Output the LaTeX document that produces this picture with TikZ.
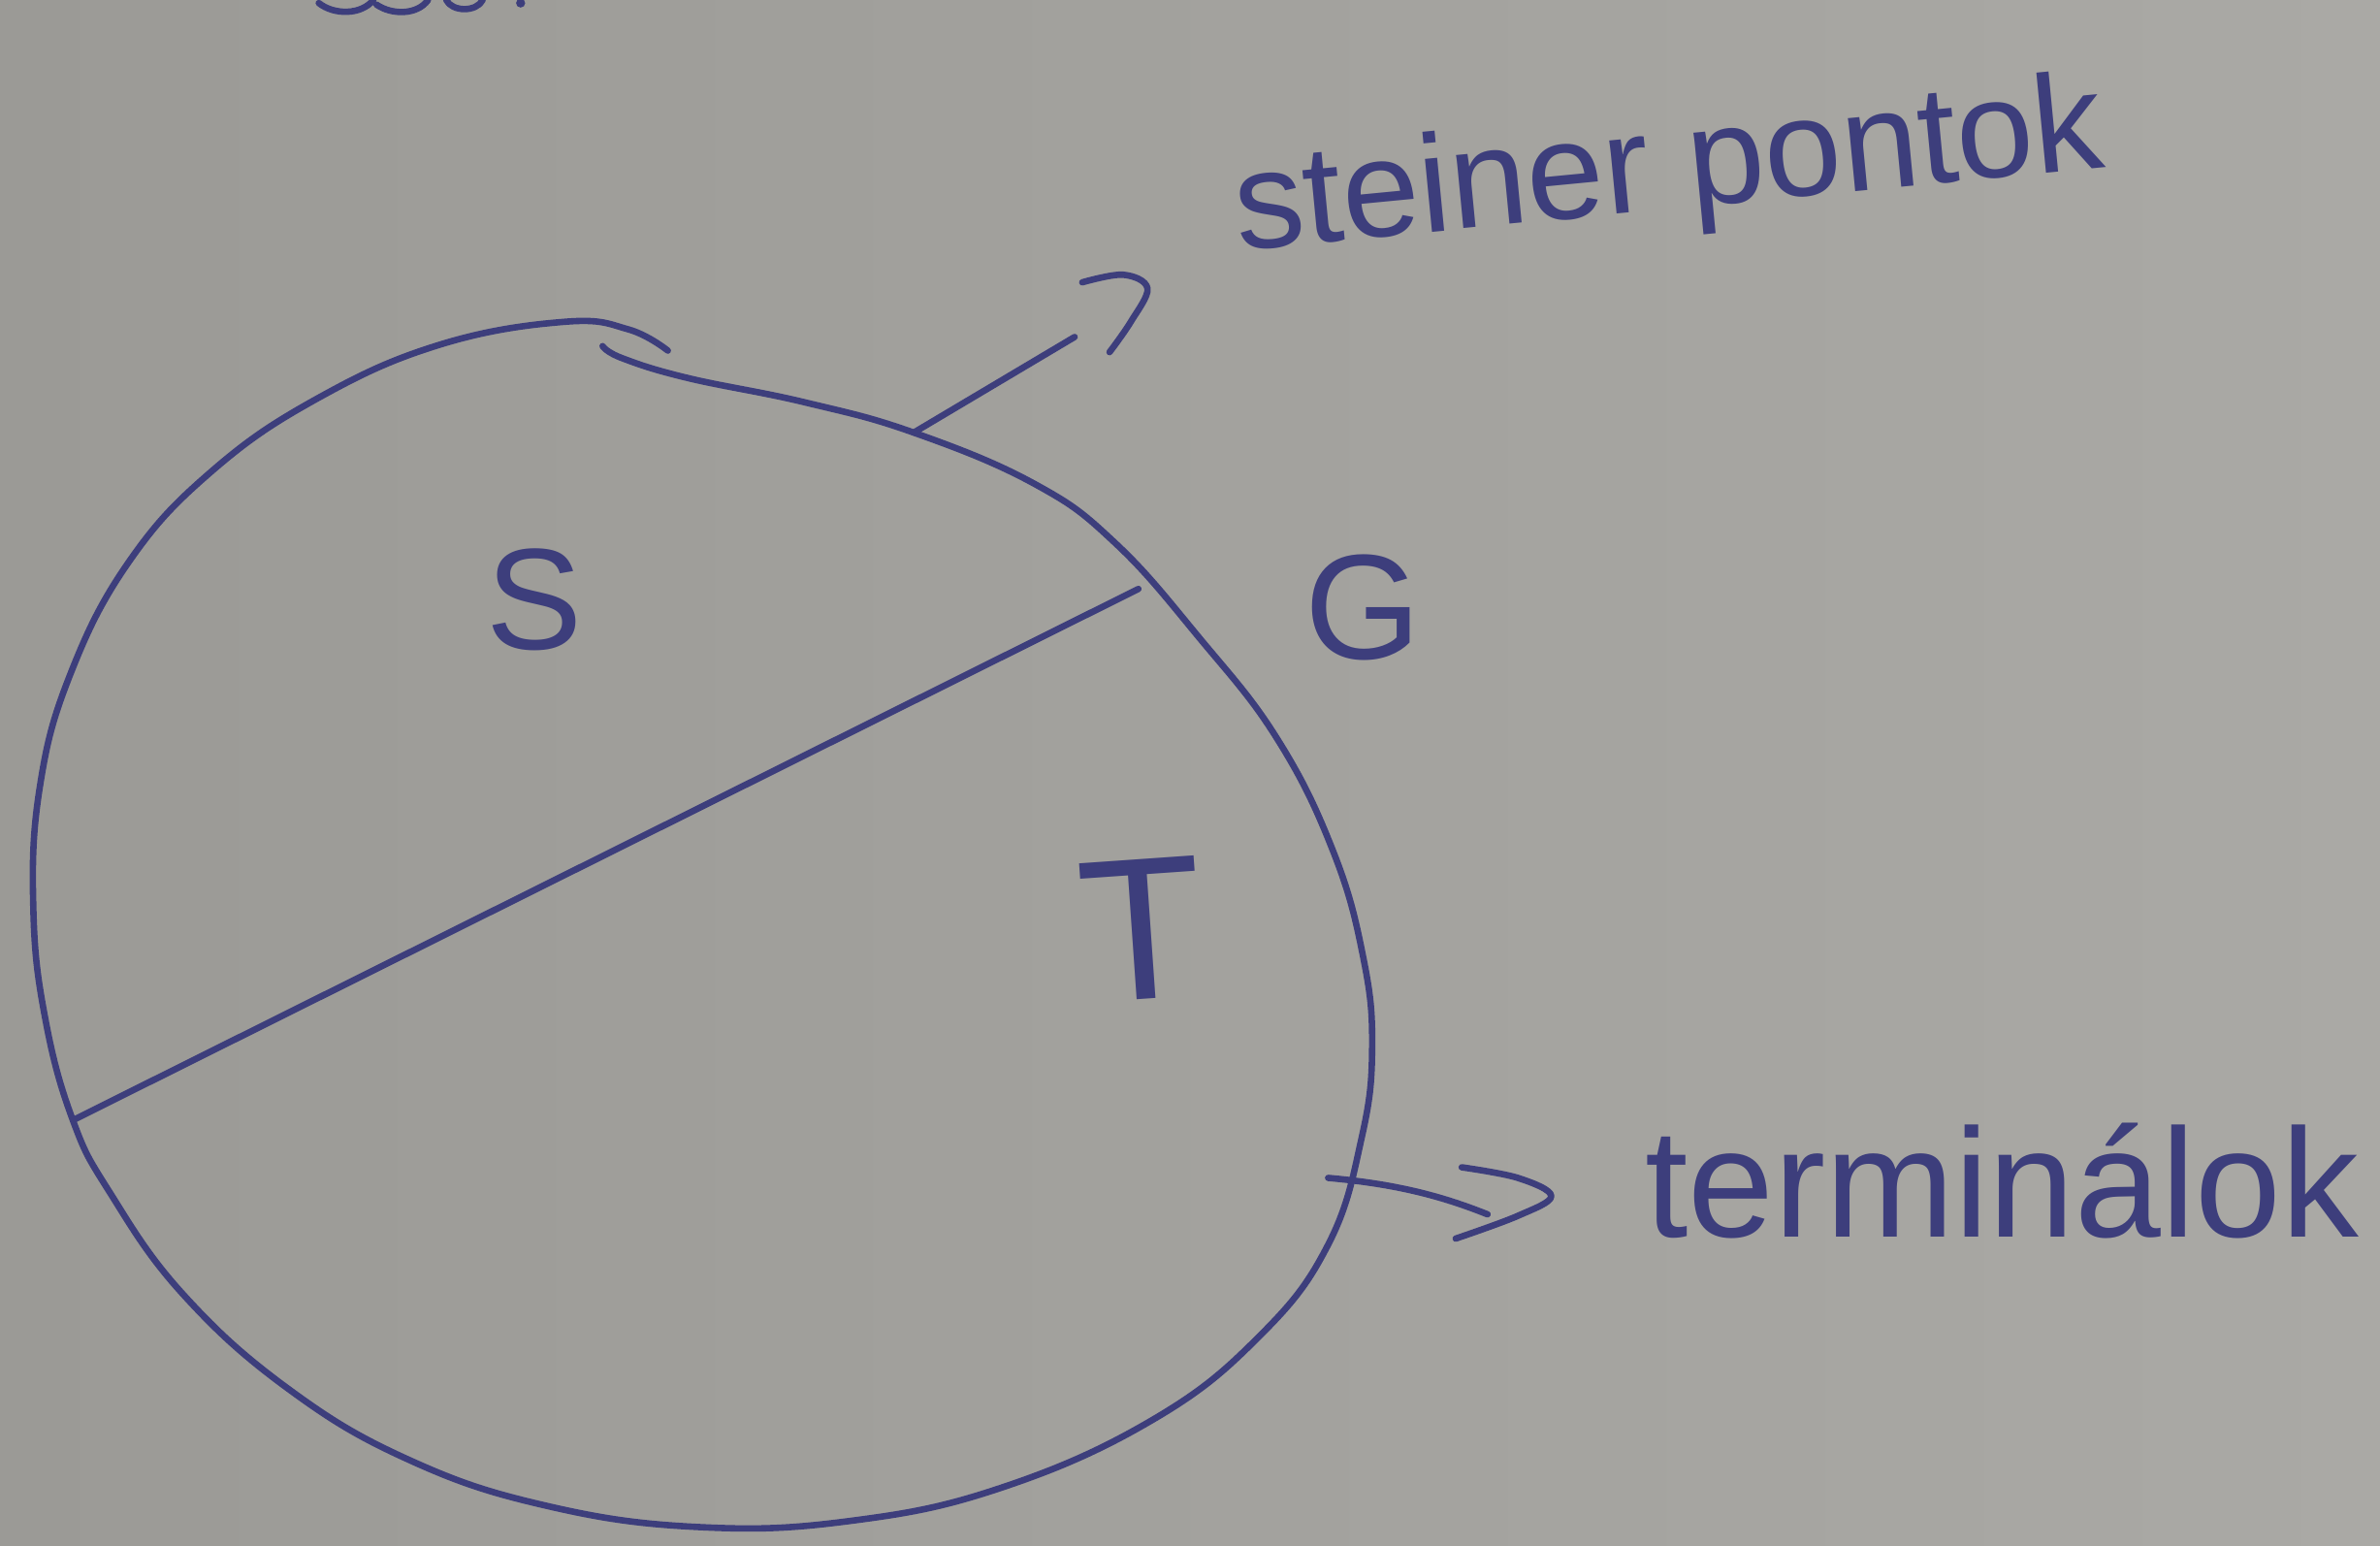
\documentclass[tikz,border=0pt]{standalone}
\usepackage{fontspec}
\setmainfont{Liberation Sans}
\definecolor{ink}{HTML}{3D3E7C}
\definecolor{paperL}{HTML}{9B9A96}
\definecolor{paperR}{HTML}{AAA9A5}
\begin{document}
\begin{tikzpicture}[x=0.01cm,y=-0.01cm,
  pen/.style={draw=ink,line width=1.2pt,line cap=round,line join=round},
  lbl/.style={text=ink,inner sep=0pt,font=\fontsize{#1}{#1}\selectfont},
  lbl/.default=26pt]
\useasboundingbox (0,0) rectangle (1568,1018);
\shade[left color=paperL,right color=paperR] (0,0) rectangle (1568,1018);
% cut-off writing at the top edge
\draw[pen] (210,2) .. controls (220,10) and (238,10) .. (246,0);
\draw[pen] (248,3) .. controls (258,10) and (275,10) .. (282,0);
\draw[pen] (294,0) .. controls (298,8) and (314,8) .. (318,0);
\fill[ink] (343,2) circle (3);
% outline of G
\draw[pen] plot[smooth,tension=0.7] coordinates {
 (397,228) (410,236) (453,249) (530,265) (602,285) (682,319) (735,358)
 (790,420) (841,486) (878,560) (898,630) (904,690) (897,750)
 (875,820) (830,880) (760,935) (660,980) (560,1002) (460,1006) (360,992)
 (270,962) (190,915) (120,852) (72,785) (48,738) (30,672) (22,600)
 (26,520) (46,445) (85,370) (140,310) (210,262) (290,227) (372,212)
 (414,217) (440,231)};
% dividing chord
\coordinate (cL) at (48,738);
\coordinate (cR) at (750,388);
\draw[pen] (cL) -- (cR);
% steiner arrow
\coordinate (sj) at (602,285);
\coordinate (se) at (708,222);
\draw[pen] (sj) -- (se);
\draw[pen] plot[smooth,tension=0.6] coordinates {(713,186) (740,181) (756,190) (745,212) (731,232)};
% terminal arrow
\coordinate (tj) at (875,776);
\coordinate (te) at (980,800);
\draw[pen] (tj) .. controls (920,780) and (950,788) .. (te);
\draw[pen] plot[smooth,tension=0.6] coordinates {(963,769) (1000,776) (1022,788) (1000,801) (959,816)};
% labels
\node[lbl=27pt] (S) at (352,395) {S};
\node[lbl=28pt] (G) at (898,400) {G};
\node[lbl=38pt,rotate=4] (T) at (752,612) {T};
\node[lbl=26pt,rotate=5.5] (steiner) at (1100,114) {steiner pontok};
\node[lbl=29pt,anchor=base west] (term) at (1083,815) {terminálok};
\end{tikzpicture}
\end{document}
